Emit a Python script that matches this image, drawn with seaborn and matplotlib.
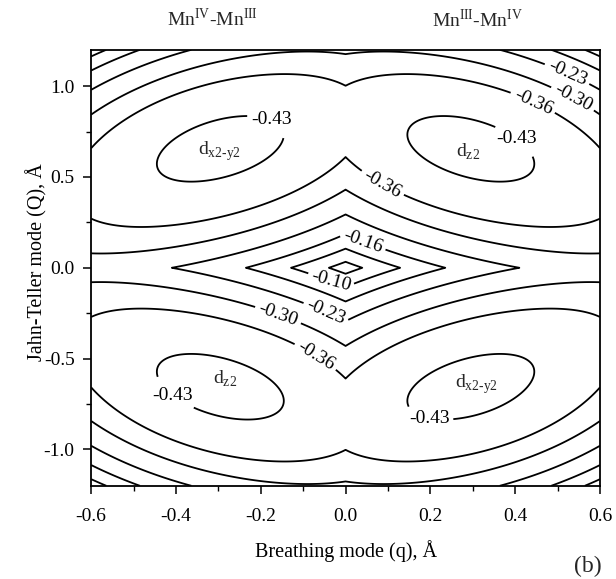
"""Adiabatic potential surface of the Mn(III)/Mn(IV) pair, panel (b)."""

import matplotlib

matplotlib.use("Agg")

import matplotlib.pyplot as plt  # noqa: E402
import numpy as np  # noqa: E402
import seaborn as sns  # noqa: E402

sns.set_theme(style="ticks")
plt.rcParams["font.family"] = ["Liberation Serif", "DejaVu Serif"]
plt.rcParams["mathtext.fontset"] = "custom"
plt.rcParams["mathtext.rm"] = "Liberation Serif"
plt.rcParams["axes.unicode_minus"] = False

# Energies (eV), first quadrant: |q|, |Q| in Angstrom.
pt_q = [0.035, 0.12, 0.22, 0.40, 0.06, 0.11, 0.20,
        0.0, 0.0, 0.0, 0.0, 0.0, 0.0, 0.0, 0.0,
        0.6, 0.6, 0.6, 0.6, 0.6, 0.6, 0.6, 0.6, 0.6,
        0.10, 0.16, 0.35, 0.50, 0.56,
        0.15, 0.45, 0.22, 0.38, 0.29,
        0.092, 0.434, 0.533, 0.523, 0.16, 0.066, 0.15]
pt_Q = [0.0, 0.0, 0.0, 0.0, 0.055, 0.095, 0.145,
        0.03, 0.11, 0.19, 0.29, 0.41, 0.606, 0.985, 1.17,
        0.0, 0.10, 0.29, 0.67, 0.87, 0.99, 1.08, 1.146, 1.2,
        1.2, 1.2, 1.2, 1.2, 1.2,
        0.71, 0.56, 0.81, 0.46, 0.635,
        0.485, 0.87, 0.92, 1.07, 0.265, 0.47, 1.04]
pt_E = [-0.04, -0.10, -0.16, -0.23, -0.10, -0.16, -0.23,
        -0.04, -0.10, -0.16, -0.23, -0.30, -0.36, -0.36, -0.30,
        -0.27, -0.30, -0.36, -0.36, -0.30, -0.23, -0.16, -0.10, -0.08,
        -0.30, -0.30, -0.23, -0.16, -0.10,
        -0.43, -0.43, -0.43, -0.43, -0.48,
        -0.36, -0.36, -0.30, -0.23, -0.30, -0.36, -0.36]

levels = [-0.43, -0.36, -0.30, -0.23, -0.16, -0.10, -0.04]

label_pos = [(-0.18, 0.79), (0.40, 0.70), (-0.40, -0.68), (0.20, -0.79),
             (0.092, 0.485), (0.434, 0.87), (0.533, 0.92), (0.523, 1.07),
             (0.04, 0.145), (-0.035, -0.083), (-0.045, -0.24), (-0.16, -0.265),
             (-0.066, -0.47)]

orbitals = [(-0.297, 0.64, r"d$_{\mathrm{x2\text{-}y2}}$"),
            (0.29, 0.64, r"d$_{\mathrm{z2}}$"),
            (-0.285, -0.61, r"d$_{\mathrm{z2}}$"),
            (0.31, -0.64, r"d$_{\mathrm{x2\text{-}y2}}$")]


def basis(u, v):
    return np.stack([np.ones_like(u), u, v, u**2, v**2, u * v, u**2 * v,
                     u * v**2, u**2 * v**2, u**3, v**3], axis=-1)


u_pts = np.asarray(pt_q)
v_pts = np.asarray(pt_Q)
coef, *_ = np.linalg.lstsq(basis(u_pts, v_pts), np.asarray(pt_E), rcond=None)

q = np.linspace(-0.6, 0.6, 601)
Q = np.linspace(-1.2, 1.2, 1201)
qq, QQ = np.meshgrid(q, Q)
energy = basis(np.abs(qq), np.abs(QQ)) @ coef

fig = plt.figure(figsize=(6.16, 5.79), dpi=100)
ax = fig.add_axes([0.148, 0.161, 0.826, 0.753])
cs = ax.contour(qq, QQ, energy, levels=levels, colors="black",
                linewidths=1.3, linestyles="solid")
labels = ax.clabel(cs, fmt="%.2f", manual=label_pos, inline=True, fontsize=14,
                   inline_spacing=4)
# the minimum labels are set upright in the original
for t in labels:
    if t.get_text() == "-0.43":
        t.set_rotation(0)

for x, y, s in orbitals:
    ax.text(x, y, s, ha="center", va="center", fontsize=14)

ax.set_xlim(-0.6, 0.6)
ax.set_ylim(-1.2, 1.2)
ax.set_xticks(np.arange(-0.6, 0.61, 0.2))
ax.set_xticks(np.arange(-0.5, 0.6, 0.2), minor=True)
ax.set_yticks([-1.0, -0.5, 0.0, 0.5, 1.0])
ax.set_yticks([-0.75, -0.25, 0.25, 0.75], minor=True)
ax.xaxis.set_major_formatter("{x:.1f}")
ax.yaxis.set_major_formatter("{x:.1f}")
ax.tick_params(which="major", length=6, width=1.1, color="black",
               labelsize=14, pad=6, labelcolor="black")
ax.tick_params(axis="x", which="major", pad=10)
ax.tick_params(which="minor", length=3.5, width=1.0, color="black")
for sp in ax.spines.values():
    sp.set_color("black")
    sp.set_linewidth(1.3)

ax.set_xlabel("Breathing mode (q), Å", fontsize=14.5, color="black")
ax.set_ylabel("Jahn-Teller mode (Q), Å", fontsize=14.5, color="black")
ax.xaxis.set_label_coords(0.5, -0.125)
ax.yaxis.set_label_coords(-0.085, 0.514)

fig.text(212 / 616, 1 - 19 / 579, r"Mn$^{\mathrm{IV}}$-Mn$^{\mathrm{III}}$",
         ha="center", va="center", fontsize=14)
fig.text(477 / 616, 1 - 20 / 579, r"Mn$^{\mathrm{III}}$-Mn$^{\mathrm{IV}}$",
         ha="center", va="center", fontsize=14)
fig.text(588 / 616, 1 - 566 / 579, "(b)", ha="center", va="center", fontsize=17)

fig.savefig("out.png", dpi=100)
